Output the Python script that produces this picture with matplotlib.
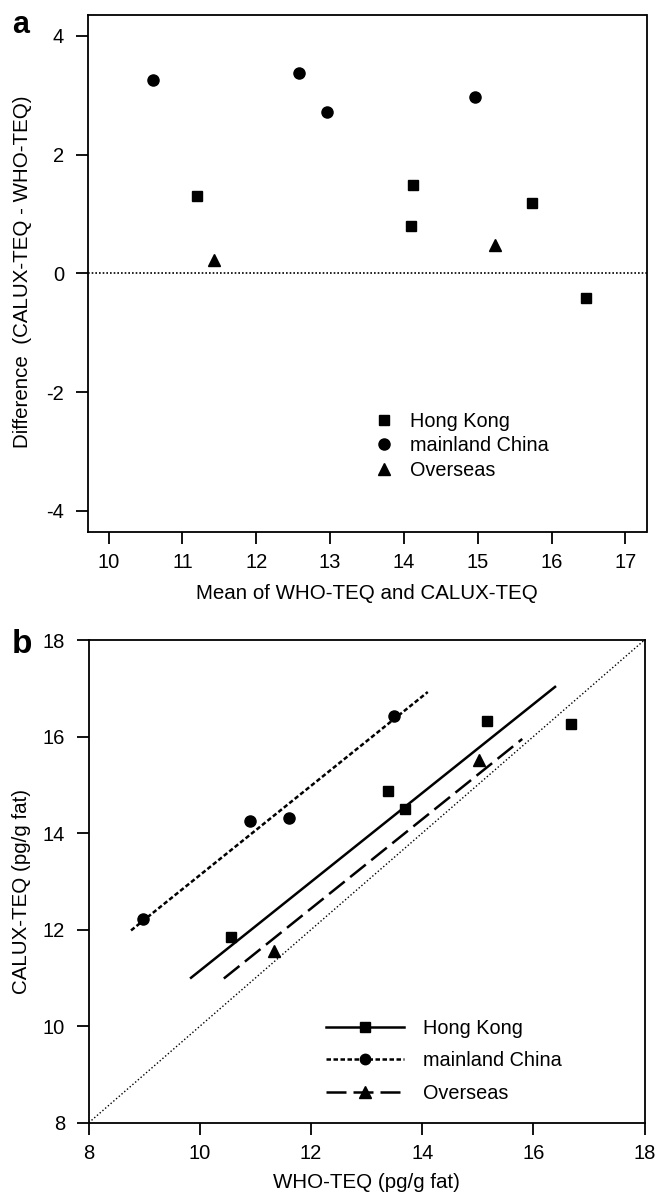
import matplotlib
matplotlib.use("Agg")
import matplotlib.pyplot as plt
from matplotlib.lines import Line2D
import numpy as np

plt.rcParams['font.family'] = ['Liberation Sans', 'DejaVu Sans']
plt.rcParams['axes.unicode_minus'] = False

# ---------------- data ----------------
groups = ["Hong Kong", "mainland China", "Overseas"]
markers = ["s", "o", "^"]
marker_sizes = [7.0, 8.0, 8.5]

# Panel a: Bland-Altman (mean vs difference)
a_hk_mean = [11.20, 14.12, 14.09, 15.74, 16.46]
a_hk_diff = [1.31, 1.49, 0.80, 1.18, -0.42]
a_mc_mean = [10.60, 12.58, 12.96, 14.96]
a_mc_diff = [3.26, 3.37, 2.71, 2.97]
a_os_mean = [11.43, 15.24]
a_os_diff = [0.23, 0.47]

# Panel b: WHO-TEQ vs CALUX-TEQ
b_hk_who = [10.56, 13.38, 13.69, 15.16, 16.67]
b_hk_calux = [11.85, 14.87, 14.49, 16.33, 16.25]
b_mc_who = [8.98, 10.90, 11.60, 13.49]
b_mc_calux = [12.21, 14.26, 14.31, 16.43]
b_os_who = [11.33, 15.02]
b_os_calux = [11.56, 15.51]

# regression lines (Hong Kong, mainland China, Overseas)
fit_x_start = [9.84, 8.76, 10.43]
fit_x_end = [16.39, 14.10, 15.80]
fit_slope = [0.920, 0.925, 0.924]
fit_intercept = [1.95, 3.88, 1.35]

a_xticks = [10, 11, 12, 13, 14, 15, 16, 17]
a_yticks = [-4, -2, 0, 2, 4]
b_ticks = [8, 10, 12, 14, 16, 18]

# ---------------- figure ----------------
W, H = 657, 1192
fig = plt.figure(figsize=(W / 100, H / 100), dpi=100)

def px_axes(left, top, right, bottom):
    return fig.add_axes([left / W, 1 - bottom / H, (right - left) / W, (bottom - top) / H])

axa = px_axes(87.5, 15, 646.5, 531.7)
axb = px_axes(88.8, 640, 644.5, 1122.7)

tick_fs = 14.5
label_fs = 14.8
leg_fs = 14.3
lw_fit = 1.8

for ax in (axa, axb):
    for s in ax.spines.values():
        s.set_linewidth(1.3)
    ax.tick_params(direction='out', length=8.5, width=1.3, labelsize=tick_fs)
    ax.tick_params(axis='y', pad=8.5)
    ax.tick_params(axis='x', pad=7)

# ---- panel a ----
a_means = [a_hk_mean, a_mc_mean, a_os_mean]
a_diffs = [a_hk_diff, a_mc_diff, a_os_diff]
handles_a = []
for g, m, ms, xs, ys in zip(groups, markers, marker_sizes, a_means, a_diffs):
    axa.plot(xs, ys, linestyle='none', marker=m, markersize=ms, color='black')
    handles_a.append(Line2D([], [], linestyle='none', marker=m, markersize=ms, color='black', label=g))
axa.axhline(0, color='black', linewidth=1.2, linestyle=(0, (1.0, 1.2)))
axa.set_xlim(9.715, 17.285)
axa.set_ylim(-4.35, 4.35)
axa.set_xticks(a_xticks)
axa.set_yticks(a_yticks)
axa.set_xlabel("Mean of WHO-TEQ and CALUX-TEQ", fontsize=label_fs)
axa.set_ylabel("Difference  (CALUX-TEQ - WHO-TEQ)", fontsize=label_fs)
axa.xaxis.set_label_coords(0.5, -0.1012)
axa.yaxis.set_label_coords(-0.0984, 0.5036)
axa.legend(handles=handles_a, loc='upper left', bbox_to_anchor=(0.5136, 0.232),
           frameon=False, fontsize=leg_fs, handlelength=0.95, handletextpad=0.85,
           labelspacing=0.27, borderpad=0, borderaxespad=0)

# ---- panel b ----
b_whos = [b_hk_who, b_mc_who, b_os_who]
b_caluxs = [b_hk_calux, b_mc_calux, b_os_calux]
styles = ['-', (0, (1.8, 1.0)), (0, (8.0, 2.8))]
handles_b = []
for i, g in enumerate(groups):
    xs = np.array([fit_x_start[i], fit_x_end[i]])
    axb.plot(xs, fit_slope[i] * xs + fit_intercept[i], color='black',
             linewidth=lw_fit, linestyle=styles[i])
    axb.plot(b_whos[i], b_caluxs[i], linestyle='none', marker=markers[i],
             markersize=marker_sizes[i], color='black')
    handles_b.append(Line2D([], [], color='black', linewidth=lw_fit, linestyle=styles[i],
                            marker=markers[i], markersize=marker_sizes[i] - 0.5, label=g))
axb.axline((8, 8), slope=1, color='black', linewidth=1.0, linestyle=(0, (1, 1.6)))
axb.set_xlim(8, 18)
axb.set_ylim(8, 18)
axb.set_xticks(b_ticks)
axb.set_yticks(b_ticks)
axb.set_xlabel("WHO-TEQ (pg/g fat)", fontsize=label_fs)
axb.set_ylabel("CALUX-TEQ (pg/g fat)", fontsize=label_fs)
axb.xaxis.set_label_coords(0.5, -0.104)
axb.yaxis.set_label_coords(-0.104, 0.479)
axb.legend(handles=handles_b, loc='upper left', bbox_to_anchor=(0.4269, 0.2156),
           frameon=False, fontsize=leg_fs, handlelength=3.95, handletextpad=0.92,
           labelspacing=0.68, borderpad=0, borderaxespad=0, numpoints=1)

# panel letters
fig.text(12 / W, 1 - 33 / H, "a", fontsize=22, fontweight='bold', ha='left', va='baseline')
fig.text(12 / W, 1 - 653 / H, "b", fontsize=24, fontweight='bold', ha='left', va='baseline')

fig.savefig("out.png", dpi=100)
